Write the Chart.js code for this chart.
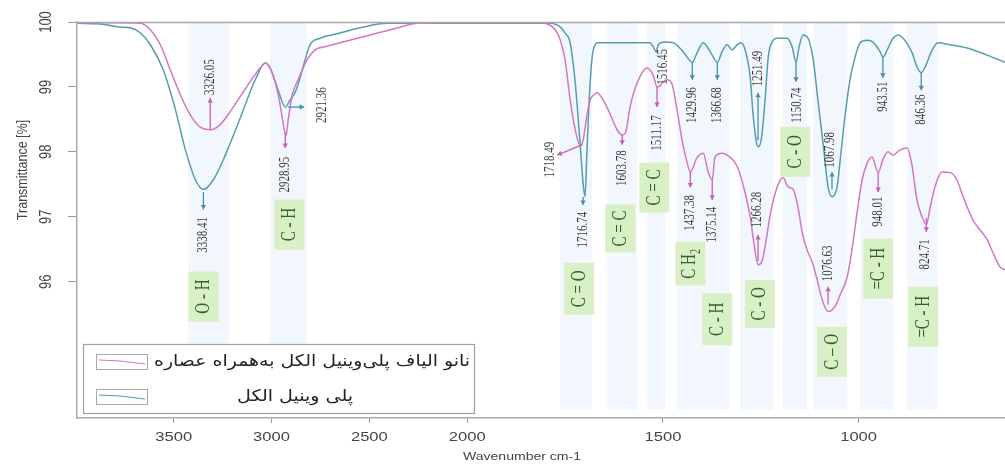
<!DOCTYPE html>
<html><head><meta charset="utf-8">
<script src="https://cdn.jsdelivr.net/npm/chart.js@4.4.1/dist/chart.umd.min.js"></script>
<style>html,body{margin:0;padding:0;background:#fff;overflow:hidden}#wrap{width:1005px;height:466px;position:relative}</style>
</head><body><div id="wrap"><canvas id="c" width="1005" height="466"></canvas></div>
<script>
// ---------------- DATA ----------------
const seriesNames = ['نانو الیاف پلی‌وینیل الکل به‌همراه عصاره', 'پلی وینیل الکل'];

const pvaWavenumber = [3995,3874,3772,3721,3670,3619,3553,3491,3440,3389,3348,3297,3236,3160,3083,3032,3007,2966,2930,2905,2879,2854,2828,2803,2752,2650,2547,2410,2200,2000,1839,1788,1762,1750,1737,1724,1711,1704,1699,1694,1686,1678,1665,1609,1533,1525,1517,1512,1494,1474,1448,1425,1413,1397,1379,1361,1349,1336,1323,1310,1300,1290,1277,1270,1262,1257,1249,1239,1231,1218,1208,1183,1170,1160,1152,1142,1129,1116,1104,1091,1078,1068,1055,1047,1035,1022,1009,996,978,963,945,938,927,912,899,886,863,851,840,830,812,797,767,723,672,626];
const pvaTransmittance = [99.98,99.97,99.92,99.91,99.83,99.65,99.26,98.65,98.03,97.57,97.42,97.57,97.95,98.52,99.11,99.37,99.29,98.95,98.69,98.80,98.92,99.14,99.42,99.65,99.75,99.83,99.91,99.98,99.98,99.98,99.98,99.98,99.92,99.83,99.68,99.06,98.08,97.52,97.31,98.03,99.06,99.57,99.68,99.68,99.68,99.62,99.54,99.65,99.69,99.68,99.54,99.38,99.52,99.68,99.54,99.38,99.54,99.65,99.57,99.65,99.68,99.57,99.15,98.60,98.18,98.08,98.18,98.80,99.46,99.72,99.75,99.75,99.62,99.38,99.62,99.80,99.75,99.42,98.80,98.14,97.46,97.31,97.46,97.88,98.54,99.11,99.46,99.68,99.72,99.69,99.54,99.46,99.57,99.75,99.80,99.75,99.52,99.31,99.22,99.31,99.57,99.68,99.65,99.60,99.49,99.38];

const nanoWavenumber = [3995,3874,3772,3670,3619,3568,3517,3466,3415,3364,3313,3262,3211,3160,3109,3058,3032,3007,2971,2950,2935,2925,2915,2894,2864,2818,2777,2726,2650,2497,2343,2257,2140,2000,1814,1788,1775,1762,1750,1737,1724,1711,1704,1694,1686,1676,1668,1653,1640,1617,1604,1596,1584,1566,1540,1525,1515,1507,1499,1489,1476,1464,1451,1438,1430,1413,1397,1384,1374,1367,1349,1336,1310,1290,1277,1267,1257,1247,1236,1226,1208,1193,1180,1167,1155,1144,1132,1119,1106,1093,1078,1060,1047,1029,1017,1004,991,978,966,950,938,925,912,894,876,863,851,838,827,817,805,787,766,749,733,708,690,672,657,639,626];
const nanoTransmittance = [99.99,99.99,99.99,99.98,99.88,99.65,99.26,98.88,98.57,98.38,98.34,98.42,98.62,98.85,99.08,99.29,99.37,99.29,98.95,98.62,98.34,98.26,98.49,98.88,99.11,99.42,99.57,99.62,99.68,99.80,99.92,99.98,99.99,99.99,99.99,99.95,99.88,99.72,99.42,98.80,98.34,98.09,98.18,98.57,98.80,98.88,98.91,98.80,98.65,98.34,98.26,98.29,98.69,99.06,99.29,99.18,99.00,99.02,99.08,99.11,99.03,98.65,98.18,97.83,97.69,97.91,97.98,97.68,97.57,97.92,97.98,97.95,97.77,97.37,97.00,96.57,96.26,96.31,96.65,97.03,97.46,97.60,97.46,97.42,97.15,96.75,96.49,96.31,96.03,95.72,95.54,95.62,95.80,96.08,96.49,97.06,97.57,97.83,97.92,97.68,97.88,98.00,97.95,98.03,98.06,97.77,97.26,97.00,96.88,97.15,97.46,97.69,97.68,97.57,97.31,96.95,96.80,96.65,96.45,96.23,96.18];

const xTickValues = [3500, 3000, 2500, 2000, 1500, 1000];
const xTickLabels = ['3500', '3000', '2500', '2000', '1500', '1000'];
const yTickValues = [96, 97, 98, 99, 100];
const yTickLabels = ['96', '97', '98', '99', '100'];
const xTitle = 'Wavenumber cm-1';
const yTitle = 'Transmittance [%]';

const pvaPeakLabels  = ['3338.41','2921.36','1716.74','1516.45','1429.96','1366.68','1251.49','1150.74','1067.98','943.51','846.36'];
const nanoPeakLabels = ['3326.05','2928.95','1718.49','1603.78','1511.17','1437.38','1375.14','1266.28','1076.63','948.01','824.71'];
const groupLabels = ['O - H','C - H','C = O','C = C','C = C','CH2','C - H','C - O','C - O','C – O','=C - H','=C - H'];

// ---------------- LAYOUT (positions in data coordinates) ----------------
// arrow: [w1,t1,w2,t2] or null ; label: [w,t]
const pvaPeakPlaces = [
  {arrow:[3348,97.38,3348,97.11], label:[3348,96.72]},
  {arrow:[2915,98.69,2833,98.69], label:[2742,98.72]},
  {arrow:[1704,97.31,1704,97.18], label:[1704,96.80]},
  {arrow:null, label:[1499,99.31]},
  {arrow:[1425,99.38,1425,99.11], label:[1425,98.72]},
  {arrow:[1361,99.38,1361,99.11], label:[1361,98.72]},
  {arrow:[1257,98.18,1257,98.91], label:[1257,99.28]},
  {arrow:[1160,99.38,1160,99.08], label:[1158,98.72]},
  {arrow:[1068,97.42,1068,97.69], label:[1073,98.03]},
  {arrow:[938,99.46,938,99.14], label:[938,98.85]},
  {arrow:[840,99.22,840,98.95], label:[840,98.65]}
];
const nanoPeakPlaces = [
  {arrow:[3313,98.34,3313,98.83], label:[3313,99.15]},
  {arrow:[2930,98.29,2930,98.06], label:[2930,97.65]},
  {arrow:[1706,98.11,1770,97.95], label:[1788,97.88]},
  {arrow:[1604,98.26,1604,98.11], label:[1604,97.75]},
  {arrow:[1515,99.00,1515,98.69], label:[1515,98.29]},
  {arrow:[1430,97.69,1430,97.45], label:[1430,97.06]},
  {arrow:[1374,97.57,1374,97.26], label:[1374,96.88]},
  {arrow:[1257,96.31,1257,96.72], label:[1260,97.11]},
  {arrow:[1078,95.65,1078,95.92], label:[1078,96.28]},
  {arrow:[950,97.68,950,97.38], label:[950,97.08]},
  {arrow:[827,96.98,827,96.77], label:[829,96.42]}
];
const groupPlaces = [[3348,95.77,50],[2909,96.88,50],[1714,95.89,52],[1609,96.82,48],[1522,97.45,50],[1430,96.28,44],[1361,95.42,52],[1252,95.66,48],[1162,98.0,50],[1068,94.92,50],[950,96.2,60],[835,95.46,60]];
const bandRanges = [[3425,3220],[3007,2818],[1762,1681],[1642,1566],[1540,1494],[1464,1405],[1405,1328],[1303,1218],[1193,1132],[1116,1029],[996,912],[876,797]];

const TEAL = '#569cad', PINK = '#d377c4';
const TEAL_ARROW = '#4a8cb5', PINK_ARROW = '#c65fb6';

// axis with 2x expansion below 2000 cm-1
const toAxis = w => w >= 2000 ? (4000 - w) / 2 : 1000 + (2000 - w);

function rotText(ctx, text, x, y, font, color, stretch) {
  ctx.save(); ctx.translate(x, y); ctx.rotate(-Math.PI / 2); ctx.scale(1, stretch);
  ctx.font = font; ctx.fillStyle = color; ctx.textAlign = 'center'; ctx.textBaseline = 'middle';
  ctx.fillText(text, 0, 0); ctx.restore();
}
function hText(ctx, text, x, y, font, color, stretch, align) {
  ctx.save(); ctx.translate(x, y); ctx.scale(stretch, 1);
  ctx.font = font; ctx.fillStyle = color; ctx.textAlign = align || 'center'; ctx.textBaseline = 'middle';
  ctx.fillText(text, 0, 0); ctx.restore();
}
function arrow(ctx, x1, y1, x2, y2, color) {
  ctx.save(); ctx.strokeStyle = color; ctx.fillStyle = color; ctx.lineWidth = 1.3;
  ctx.beginPath(); ctx.moveTo(x1, y1); ctx.lineTo(x2, y2); ctx.stroke();
  const a = Math.atan2(y2 - y1, x2 - x1), s = 4.5;
  ctx.beginPath(); ctx.moveTo(x2, y2);
  ctx.lineTo(x2 - s * Math.cos(a) + s * 0.6 * Math.sin(a), y2 - s * Math.sin(a) - s * 0.6 * Math.cos(a));
  ctx.lineTo(x2 - s * Math.cos(a) - s * 0.6 * Math.sin(a), y2 - s * Math.sin(a) + s * 0.6 * Math.cos(a));
  ctx.closePath(); ctx.fill(); ctx.restore();
}

const decor = {
  id: 'decor',
  beforeDatasetsDraw(chart) {
    const {ctx, chartArea: a, scales: {x, y}} = chart;
    ctx.save(); ctx.fillStyle = '#f1f7fd';
    const yb = y.getPixelForValue(94.03);
    bandRanges.forEach(([w1, w2]) => {
      const p1 = x.getPixelForValue(toAxis(w1)), p2 = x.getPixelForValue(toAxis(w2));
      ctx.fillRect(p1, a.top + 1, p2 - p1, yb - a.top - 1);
    });
    ctx.restore();
  },
  afterDatasetsDraw(chart) {
    const {ctx, chartArea: a, scales: {x, y}} = chart;
    const px = w => x.getPixelForValue(toAxis(w)), py = t => y.getPixelForValue(t);
    // top frame line
    ctx.save(); ctx.strokeStyle = '#a8a8a8'; ctx.lineWidth = 1.5;
    ctx.beginPath(); ctx.moveTo(a.left, a.top + 0.5); ctx.lineTo(a.right, a.top + 0.5); ctx.stroke(); ctx.restore();

    const numFont = '11px "Liberation Serif", serif';
    const drawPeaks = (labels, places, col) => {
      labels.forEach((txt, i) => {
        const p = places[i];
        if (p.arrow) arrow(ctx, px(p.arrow[0]), py(p.arrow[1]), px(p.arrow[2]), py(p.arrow[3]), col);
        rotText(ctx, txt, px(p.label[0]), py(p.label[1]), numFont, '#3a3a3a', 1.3);
      });
    };
    drawPeaks(pvaPeakLabels, pvaPeakPlaces, TEAL_ARROW);
    drawPeaks(nanoPeakLabels, nanoPeakPlaces, PINK_ARROW);

    // green group boxes
    groupLabels.forEach((txt, i) => {
      const [w, t, h] = groupPlaces[i];
      const cx = px(w), cy = py(t), bw = 30;
      ctx.fillStyle = '#d9efc6'; ctx.fillRect(cx - bw / 2, cy - h / 2, bw, h);
      const f = '15px "Liberation Serif", serif';
      if (txt === 'CH2') {
        rotText(ctx, 'C H', cx - 1, cy + 3, f, '#34602a', 1.4);
        rotText(ctx, '2', cx + 6, cy - 12, '10px "Liberation Serif", serif', '#34602a', 1.4);
      } else {
        rotText(ctx, txt, cx, cy, f, '#34602a', 1.4);
      }
    });

    // legend
    const lx = 83, ly = 344, lw = 391, lh = 69;
    ctx.save();
    ctx.fillStyle = '#fff'; ctx.fillRect(lx, ly, lw, lh);
    ctx.strokeStyle = '#a0a0a0'; ctx.lineWidth = 1.2; ctx.strokeRect(lx + 0.5, ly + 0.5, lw, lh);
    const rows = [{y: 362, ds: chart.data.datasets[0]}, {y: 397, ds: chart.data.datasets[1]}];
    rows.forEach((r, k) => {
      ctx.strokeStyle = '#a8a8a8'; ctx.lineWidth = 1; ctx.strokeRect(96.5, r.y - 7.5, 51, 15);
      ctx.strokeStyle = r.ds.borderColor; ctx.lineWidth = 1;
      ctx.beginPath(); ctx.moveTo(99, r.y - 2); ctx.lineTo(120, r.y - 1); ctx.lineTo(145, r.y + 2); ctx.stroke();
      ctx.direction = 'rtl';
      const target = k === 0 ? 316 : 116;
      ctx.font = '16px "DejaVu Sans", sans-serif';
      const wm = ctx.measureText(r.ds.label).width;
      const sx = target / wm;
      ctx.save(); ctx.translate(k === 0 ? 470 : 295, r.y); ctx.scale(sx, 1);
      ctx.font = '16px "DejaVu Sans", sans-serif'; ctx.fillStyle = '#222';
      ctx.textAlign = k === 0 ? 'right' : 'center'; ctx.textBaseline = 'middle'; ctx.direction = 'rtl';
      ctx.fillText(r.ds.label, 0, 0); ctx.restore();
      ctx.direction = 'ltr';
    });
    ctx.restore();
  },
  afterDraw(chart) {
    const {ctx, scales: {x, y}} = chart;
    const tf = '12px "Liberation Sans", Arial, sans-serif';
    yTickValues.forEach((v, i) => rotText(ctx, yTickLabels[i], 47, y.getPixelForValue(v), '13px "Liberation Sans", Arial, sans-serif', '#444', 1.2));
    xTickValues.forEach((v, i) => hText(ctx, xTickLabels[i], x.getPixelForValue(toAxis(v)), 438, tf, '#444', 1.38));
    rotText(ctx, yTitle, 23, 170, '12.5px "Liberation Sans", Arial, sans-serif', '#444', 1.2);
    hText(ctx, xTitle, 522, 457, '11.5px "Liberation Sans", Arial, sans-serif', '#444', 1.22);
  }
};

const mk = (ws, ts) => ws.map((w, i) => ({x: toAxis(w), y: ts[i]}));

new Chart(document.getElementById('c'), {
  type: 'line',
  data: {
    datasets: [
      {label: seriesNames[0], data: mk(nanoWavenumber, nanoTransmittance), borderColor: PINK, borderWidth: 1.5, pointRadius: 0, cubicInterpolationMode: 'monotone', fill: false},
      {label: seriesNames[1], data: mk(pvaWavenumber, pvaTransmittance), borderColor: TEAL, borderWidth: 1.5, pointRadius: 0, cubicInterpolationMode: 'monotone', fill: false}
    ]
  },
  options: {
    responsive: false, animation: false, devicePixelRatio: 1,
    layout: {padding: {top: 22, left: 0, right: 0, bottom: 0}},
    plugins: {legend: {display: false}, tooltip: {enabled: false}},
    scales: {
      x: {type: 'linear', min: toAxis(3994), max: toAxis(626),
        afterBuildTicks: s => { s.ticks = xTickValues.map(v => ({value: toAxis(v)})); },
        afterFit: s => { s.height = 48; },
        ticks: {display: false},
        grid: {drawOnChartArea: false, drawTicks: true, tickLength: 5, color: '#9a9a9a'},
        border: {display: true, color: '#a8a8a8', width: 1.5}},
      y: {type: 'linear', min: 93.9, max: 100,
        afterBuildTicks: s => { s.ticks = yTickValues.map(v => ({value: v})); },
        afterFit: s => { s.width = 77; },
        ticks: {display: false},
        grid: {drawOnChartArea: false, drawTicks: true, tickLength: 9, color: '#9a9a9a'},
        border: {display: true, color: '#a8a8a8', width: 1.5}}
    }
  },
  plugins: [decor]
});
</script></body></html>
